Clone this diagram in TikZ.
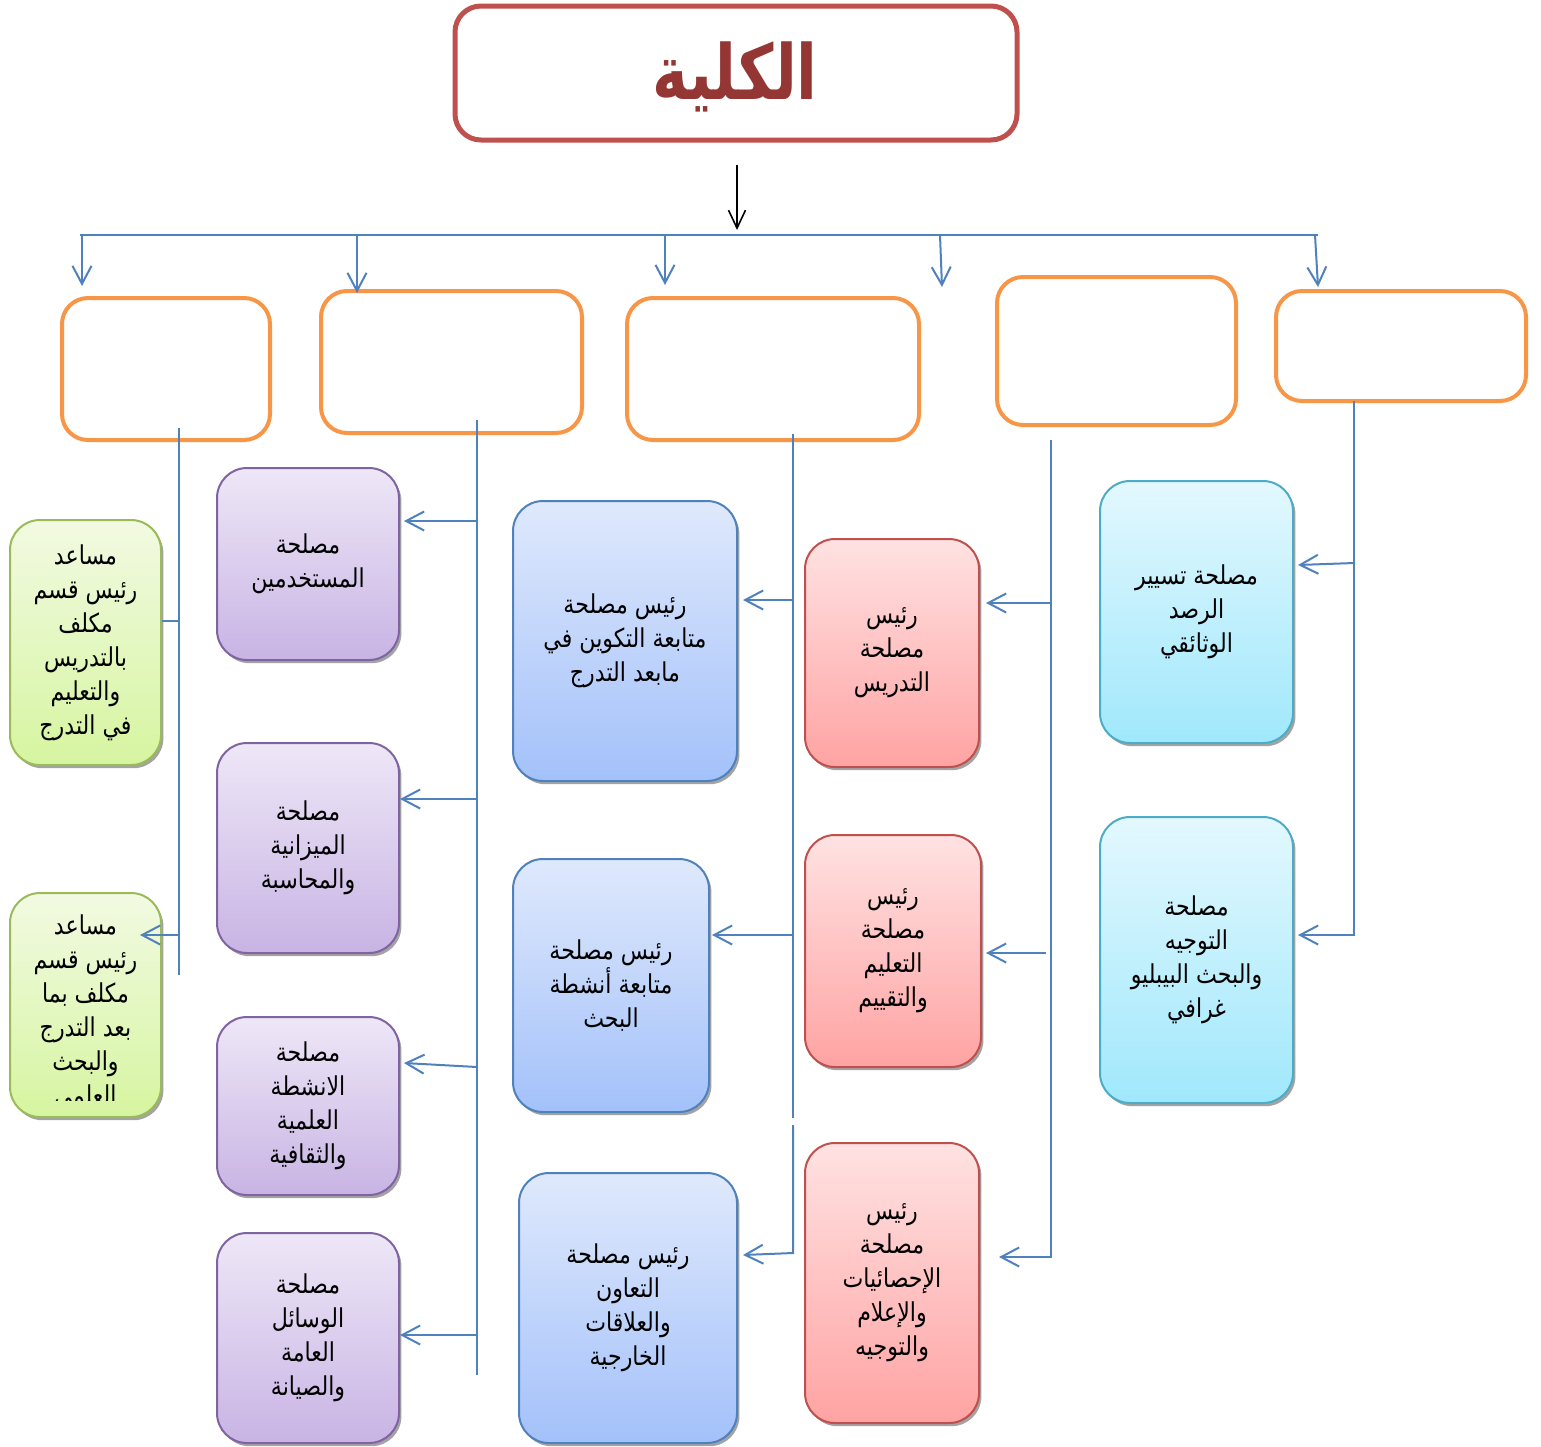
\documentclass[tikz,border=0pt]{standalone}
\usepackage{fontspec}
\newfontfamily\arabicfont[Script=Arabic,FakeStretch=0.85]{DejaVu Sans}
\newfontfamily\titlefont[Script=Arabic,FakeStretch=0.8]{DejaVu Sans Bold}
\TeXXeTstate=1
\usetikzlibrary{arrows.meta,shadows,fit}
\definecolor{titlered}{HTML}{C0504D}
\definecolor{titletext}{HTML}{943634}
\definecolor{orng}{HTML}{F79646}
\definecolor{lineblue}{HTML}{4F81BD}
\definecolor{grnS}{HTML}{9BBB59}\definecolor{grnT}{HTML}{F2FAE2}\definecolor{grnB}{HTML}{D6F5A0}
\definecolor{purS}{HTML}{8064A2}\definecolor{purT}{HTML}{EEE7F7}\definecolor{purB}{HTML}{C8B4E4}
\definecolor{bluS}{HTML}{4F81BD}\definecolor{bluT}{HTML}{DFE9FC}\definecolor{bluB}{HTML}{A3C1FA}
\definecolor{redS}{HTML}{C0504D}\definecolor{redT}{HTML}{FFE2E2}\definecolor{redB}{HTML}{FFA3A3}
\definecolor{cyaS}{HTML}{4BACC6}\definecolor{cyaT}{HTML}{E3F8FE}\definecolor{cyaB}{HTML}{A0E8FC}
\newcommand\ar[1]{\beginR #1\endR}
% box with its text: style, corner1, corner2, name, text
\newcommand\bx[5]{\node[#1, fit={#2 #3}] (#4) {};
  \node[txt] (#4t) at (#4.center) {#5};}
\begin{document}
\begin{tikzpicture}[x=0.5pt,y=-0.5pt,
  txt/.style={font=\arabicfont\fontsize{13}{17}\selectfont, align=center, text=black, inner sep=0pt},
  cbox/.style={rounded corners=15pt, line width=1pt, inner sep=0pt,
     drop shadow={shadow xshift=1.2pt, shadow yshift=-1.6pt, fill=black!45, opacity=0.8}},
  gbox/.style={cbox, draw=grnS, top color=grnT, bottom color=grnB},
  pbox/.style={cbox, draw=purS, top color=purT, bottom color=purB},
  bbox/.style={cbox, draw=bluS, top color=bluT, bottom color=bluB},
  rbox/.style={cbox, draw=redS, top color=redT, bottom color=redB},
  ybox/.style={cbox, draw=cyaS, top color=cyaT, bottom color=cyaB},
  obox/.style={draw=orng, line width=2pt, rounded corners=13pt, fill=white, inner sep=0pt},
  conn/.style={draw=lineblue, line width=1pt},
  arr/.style={conn, -{Straight Barb[length=9pt,width=9.5pt]}},
  blk/.style={draw=black, line width=0.8pt, -{Straight Barb[length=9pt,width=8.5pt]}}
]
\useasboundingbox (0,0) rectangle (1541,1446);

% title
\node[draw=titlered, line width=2.5pt, rounded corners=13pt, inner sep=0pt,
      fit={(455,6) (1017,140)}] (title) {};
\node[anchor=base, inner sep=0pt, font=\titlefont\fontsize{38}{42}\selectfont,
      text=titletext] (titlet) at (735,99) {\ar{الكلية}};

% orange boxes
\node[obox, fit={(62,298) (270,440)}] (b1) {};
\node[obox, fit={(321,291) (582,433)}] (b2) {};
\node[obox, fit={(627,298) (919,440)}] (b3) {};
\node[obox, fit={(997,277) (1236,425)}] (b4) {};
\node[obox, fit={(1276,291) (1526,401)}] (b5) {};

% green boxes
\bx{gbox}{(10,520)}{(161,765)}{g1}{\ar{مساعد}\\\ar{رئيس قسم}\\\ar{مكلف}\\\ar{بالتدريس}\\\ar{والتعليم}\\\ar{في التدرج}}
\node[gbox, fit={(10,893) (161,1117)}] (g2) {};
\begin{scope}
  \clip (10,893) rectangle (161,1100);
  \node[txt] at ([yshift=-4pt]g2.center) (g2t) {\ar{مساعد}\\\ar{رئيس قسم}\\\ar{مكلف بما}\\\ar{بعد التدرج}\\\ar{والبحث}\\\ar{العلمي}};
\end{scope}

% purple boxes
\bx{pbox}{(217,468)}{(399,660)}{p1}{\ar{مصلحة}\\\ar{المستخدمين}}
\bx{pbox}{(217,743)}{(399,953)}{p2}{\ar{مصلحة}\\\ar{الميزانية}\\\ar{والمحاسبة}}
\bx{pbox}{(217,1017)}{(399,1195)}{p3}{\ar{مصلحة}\\\ar{الانشطة}\\\ar{العلمية}\\\ar{والثقافية}}
\bx{pbox}{(217,1233)}{(399,1443)}{p4}{\ar{مصلحة}\\\ar{الوسائل}\\\ar{العامة}\\\ar{والصيانة}}

% blue boxes
\bx{bbox}{(513,501)}{(737,781)}{l1}{\ar{رئيس مصلحة}\\\ar{متابعة التكوين في}\\\ar{مابعد التدرج}}
\bx{bbox}{(513,859)}{(709,1112)}{l2}{\ar{رئيس مصلحة}\\\ar{متابعة أنشطة}\\\ar{البحث}}
\bx{bbox}{(519,1173)}{(737,1443)}{l3}{\ar{رئيس مصلحة}\\\ar{التعاون}\\\ar{والعلاقات}\\\ar{الخارجية}}

% red boxes
\bx{rbox}{(805,539)}{(979,767)}{r1}{\ar{رئيس}\\\ar{مصلحة}\\\ar{التدريس}}
\bx{rbox}{(805,835)}{(981,1067)}{r2}{\ar{رئيس}\\\ar{مصلحة}\\\ar{التعليم}\\\ar{والتقييم}}
\bx{rbox}{(805,1143)}{(979,1423)}{r3}{\ar{رئيس}\\\ar{مصلحة}\\\ar{الإحصائيات}\\\ar{والإعلام}\\\ar{والتوجيه}}

% cyan boxes
\bx{ybox}{(1100,481)}{(1293,743)}{c1}{\ar{مصلحة تسيير}\\\ar{الرصد}\\\ar{الوثائقي}}
\bx{ybox}{(1100,817)}{(1293,1103)}{c2}{\ar{مصلحة}\\\ar{التوجيه}\\\ar{والبحث البيبليو}\\\ar{غرافي}}

% top connectors
\coordinate (hl) at (80,235);
\coordinate (hr) at (1318,235);
\draw[blk] ([yshift=-11pt]title.south -| 737,0) -- (737,230);
\draw[conn] (hl) -- (hr);
\draw[arr] (82,235) -- ([yshift=5pt]b1.north -| 82,0);
\draw[arr] (357,235) -- (357,293);
\draw[arr] (665,235) -- (665,285);
\draw[arr] (940,235) -- (942,287);
\draw[arr] (1315,235) -- (1318,287);

% trunk 1
\coordinate (t1a) at (179,428);
\coordinate (t1b) at (179,975);
\draw[conn] (t1a) -- (t1b);
\draw[conn] (g1.east |- 0,621) -- (179,621);
\draw[arr] (179,935) -- (140,935);

% trunk 2
\coordinate (t2a) at (477,420);
\coordinate (t2b) at (477,1375);
\draw[conn] (t2a) -- (t2b);
\draw[arr] (477,521) -- ([xshift=2pt]p1.east |- 0,521);
\draw[arr] (477,799) -- (p2.east |- 0,799);
\draw[arr] (477,1067) -- ([xshift=2pt]p3.east |- 0,1063);
\draw[arr] (477,1335) -- (p4.east |- 0,1335);

% trunk 3
\coordinate (t3a) at (793,434);
\coordinate (t3b) at (793,1118);
\draw[conn] (t3a) -- (t3b);
\draw[arr] (793,600) -- ([xshift=2.5pt]l1.east |- 0,600);
\draw[arr] (793,935) -- ([xshift=1pt]l2.east |- 0,935);
\draw[arr] (793,1125) -- (793,1253) -- ([xshift=2.5pt]l3.east |- 0,1255);

% trunk 4
\coordinate (t4a) at (1051,440);
\draw[arr] (t4a) -- (1051,1257) -- ([xshift=9.5pt]r3.east |- 0,1257);
\draw[arr] (1051,603) -- ([xshift=3pt]r1.east |- 0,603);
\draw[arr] (1046,953) -- ([xshift=2pt]r2.east |- 0,953);

% trunk 5
\coordinate (t5a) at (1354,401);
\draw[arr] (t5a) -- (1354,935) -- ([xshift=2pt]c2.east |- 0,935);
\draw[arr] (1354,563) -- ([xshift=2pt]c1.east |- 0,565);
\end{tikzpicture}
\end{document}
